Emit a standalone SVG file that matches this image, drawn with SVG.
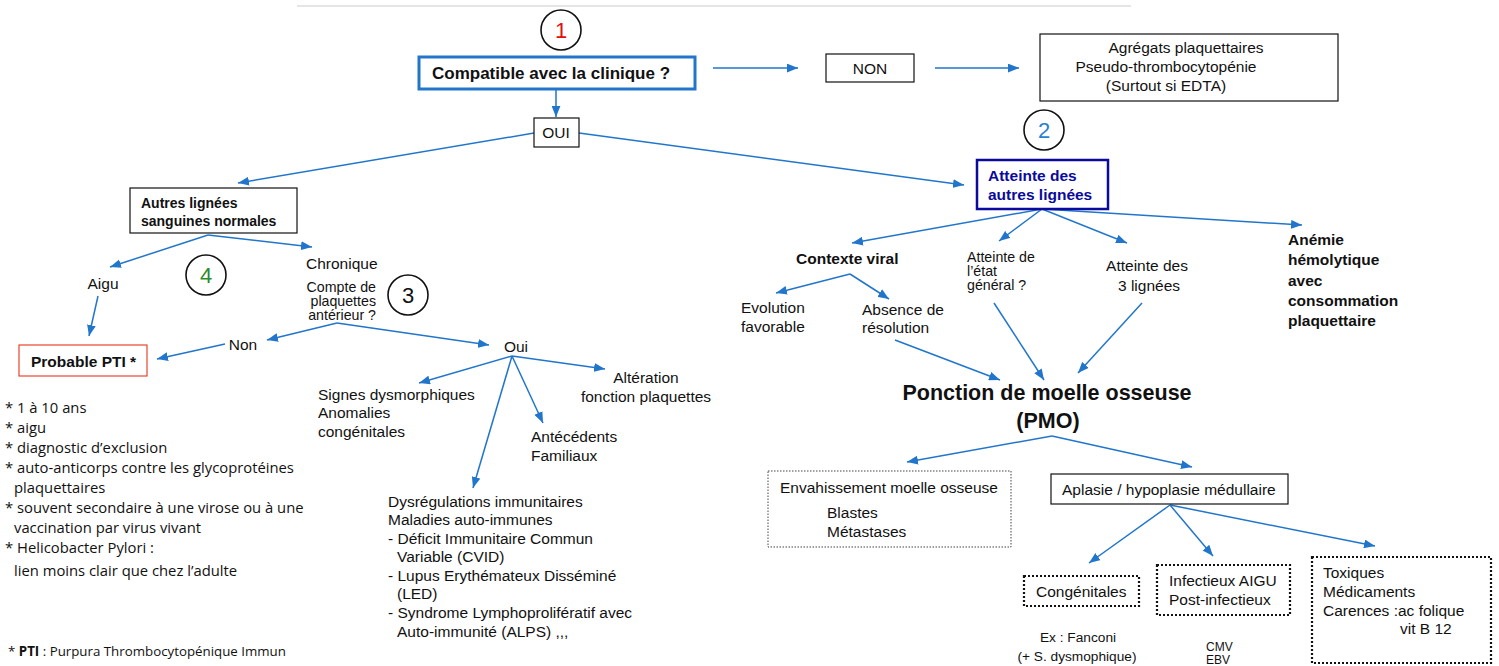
<svg xmlns="http://www.w3.org/2000/svg" width="1499" height="666" viewBox="0 0 1499 666">
<defs>
<marker id="ah" viewBox="0 0 10 8" refX="10" refY="4" markerWidth="11" markerHeight="9" markerUnits="userSpaceOnUse" orient="auto">
<path d="M0,0 L10,4 L0,8 z" fill="#2176cc"/>
</marker>
<style>
text{font-family:"Liberation Sans",Arial,sans-serif;font-size:15.5px;fill:#111}
.b{font-weight:bold}
.note{font-family:"Open Sans","Noto Sans",sans-serif;font-size:14.8px}
.box{fill:#fff;stroke:#111;stroke-width:1.2}
.dot1{fill:#fff;stroke:#444;stroke-width:1;stroke-dasharray:1.5,1.5}
.dot2{fill:#fff;stroke:#111;stroke-width:2.2;stroke-dasharray:2,2}
.circ{fill:#fff;stroke:#111;stroke-width:1.6}
.num{font-size:22px;text-anchor:middle}
.tight{font-size:14.2px}
#connectors line{stroke:#2176cc;stroke-width:1.5;fill:none}
</style>
</defs>
<rect width="1499" height="666" fill="#fff"/>
<line x1="297" y1="6" x2="1131" y2="6" stroke="#ddd" stroke-width="1.5"/>

<g id="connectors">
<line x1="556" y1="89" x2="556" y2="117" marker-end="url(#ah)"/>
<line x1="713" y1="68" x2="798" y2="68" marker-end="url(#ah)"/>
<line x1="935" y1="68" x2="1019" y2="68" marker-end="url(#ah)"/>
<line x1="534" y1="133" x2="238" y2="183" marker-end="url(#ah)"/>
<line x1="579" y1="133" x2="964" y2="185" marker-end="url(#ah)"/>
<line x1="208" y1="235" x2="110" y2="267" marker-end="url(#ah)"/>
<line x1="208" y1="235" x2="312" y2="247" marker-end="url(#ah)"/>
<line x1="98" y1="296" x2="89" y2="336" marker-end="url(#ah)"/>
<line x1="337" y1="323" x2="267" y2="340" marker-end="url(#ah)"/>
<line x1="337" y1="323" x2="489" y2="345" marker-end="url(#ah)"/>
<line x1="225" y1="344" x2="157" y2="359" marker-end="url(#ah)"/>
<line x1="512" y1="356" x2="419" y2="383" marker-end="url(#ah)"/>
<line x1="512" y1="356" x2="605" y2="369" marker-end="url(#ah)"/>
<line x1="512" y1="356" x2="543" y2="423" marker-end="url(#ah)"/>
<line x1="512" y1="356" x2="473" y2="488" marker-end="url(#ah)"/>
<line x1="1042" y1="209" x2="852" y2="243" marker-end="url(#ah)"/>
<line x1="1042" y1="209" x2="999" y2="241" marker-end="url(#ah)"/>
<line x1="1042" y1="209" x2="1127" y2="243" marker-end="url(#ah)"/>
<line x1="1042" y1="209" x2="1302" y2="225" marker-end="url(#ah)"/>
<line x1="850" y1="274" x2="776" y2="293" marker-end="url(#ah)"/>
<line x1="850" y1="274" x2="889" y2="299" marker-end="url(#ah)"/>
<line x1="895" y1="340" x2="1000" y2="380" marker-end="url(#ah)"/>
<line x1="994" y1="303" x2="1044" y2="380" marker-end="url(#ah)"/>
<line x1="1142" y1="303" x2="1078" y2="373" marker-end="url(#ah)"/>
<line x1="1052" y1="436" x2="907" y2="462" marker-end="url(#ah)"/>
<line x1="1052" y1="436" x2="1192" y2="467" marker-end="url(#ah)"/>
<line x1="1170" y1="505" x2="1089" y2="563" marker-end="url(#ah)"/>
<line x1="1170" y1="505" x2="1213" y2="556" marker-end="url(#ah)"/>
<line x1="1170" y1="505" x2="1375" y2="546" marker-end="url(#ah)"/>
</g>

<g id="badge1"><circle class="circ" cx="561" cy="30" r="20"/><text class="num" x="561" y="38" style="fill:#e01010">1</text></g>
<g id="badge2"><circle class="circ" cx="1044" cy="130" r="20"/><text class="num" x="1044" y="138" style="fill:#2a7fd4">2</text></g>
<g id="badge3"><circle class="circ" cx="408" cy="295" r="20"/><text class="num" x="408" y="303">3</text></g>
<g id="badge4"><circle class="circ" cx="206" cy="275" r="20"/><text class="num" x="206" y="283" style="fill:#2e8b2e">4</text></g>

<g id="compatible"><rect x="419" y="57" width="276" height="32" fill="#fff" stroke="#2176cc" stroke-width="3"/><text class="b" x="432" y="79" style="font-size:17px">Compatible avec la clinique ?</text></g>
<g id="non"><rect class="box" x="826" y="54" width="88" height="28"/><text x="870" y="74" text-anchor="middle">NON</text></g>
<g id="agregats"><rect class="box" x="1040" y="34" width="298" height="67"/>
<text x="1186" y="53" text-anchor="middle">Agrégats plaquettaires</text>
<text x="1166" y="72" text-anchor="middle">Pseudo-thrombocytopénie</text>
<text x="1166" y="91" text-anchor="middle">(Surtout si EDTA)</text></g>
<g id="oui"><rect class="box" x="534" y="118" width="45" height="29"/><text x="556" y="138" text-anchor="middle">OUI</text></g>

<g id="autres"><rect class="box" x="130" y="188" width="167" height="45"/>
<text class="b" x="141" y="208" style="font-size:14px">Autres lignées</text>
<text class="b" x="141" y="226" style="font-size:14px">sanguines normales</text></g>
<g id="aigu"><text x="103" y="289" text-anchor="middle">Aigu</text></g>
<g id="chronique"><text x="306" y="269">Chronique</text></g>
<g id="compte">
<text class="tight" x="376" y="292" text-anchor="end">Compte de</text>
<text class="tight" x="376" y="306" text-anchor="end">plaquettes</text>
<text class="tight" x="376" y="320" text-anchor="end">antérieur ?</text></g>
<g id="non2"><text x="243" y="350" text-anchor="middle">Non</text></g>
<g id="pti"><rect x="19" y="345" width="128" height="31" fill="#fff" stroke="#e8452c" stroke-width="1.2"/><text class="b" x="31" y="367">Probable PTI *</text></g>
<g id="oui2"><text x="516" y="352" text-anchor="middle">Oui</text></g>
<g id="signes"><text x="318" y="400">Signes dysmorphiques</text><text x="318" y="418">Anomalies</text><text x="318" y="437">congénitales</text></g>
<g id="alteration"><text x="646" y="383" text-anchor="middle">Altération</text><text x="646" y="402" text-anchor="middle">fonction plaquettes</text></g>
<g id="antecedents"><text x="531" y="442">Antécédents</text><text x="531" y="461">Familiaux</text></g>
<g id="dysregulations">
<text x="388" y="507">Dysrégulations immunitaires</text>
<text x="388" y="525">Maladies auto-immunes</text>
<text x="388" y="544">- Déficit Immunitaire Commun</text>
<text x="397" y="562">Variable (CVID)</text>
<text x="388" y="581">- Lupus Erythémateux Disséminé</text>
<text x="397" y="599">(LED)</text>
<text x="388" y="618">- Syndrome Lymphoprolifératif avec</text>
<text x="397" y="637">Auto-immunité (ALPS) ,,,</text></g>

<g id="notes">
<text class="note" x="5" y="413">* 1 à 10 ans</text>
<text class="note" x="5" y="433">* aigu</text>
<text class="note" x="5" y="453">* diagnostic d’exclusion</text>
<text class="note" x="5" y="473">* auto-anticorps contre les glycoprotéines</text>
<text class="note" x="14" y="493">plaquettaires</text>
<text class="note" x="5" y="513">* souvent secondaire à une virose ou à une</text>
<text class="note" x="14" y="533">vaccination  par virus vivant</text>
<text class="note" x="5" y="553">* Helicobacter Pylori :</text>
<text class="note" x="14" y="576">lien moins clair que chez l’adulte</text>
<text class="note" x="8" y="656" style="font-size:13.3px">* <tspan font-weight="bold">PTI</tspan> : Purpura Thrombocytopénique Immun</text>
</g>

<g id="atteinte"><rect x="977" y="160" width="131" height="49" fill="#fff" stroke="#0a0a9c" stroke-width="2.5"/>
<text class="b" x="988" y="181" style="fill:#0a0a9c">Atteinte des</text>
<text class="b" x="988" y="200" style="fill:#0a0a9c">autres lignées</text></g>
<g id="contexte"><text class="b" x="796" y="264">Contexte viral</text></g>
<g id="evolution"><text x="741" y="313">Evolution</text><text x="741" y="332">favorable</text></g>
<g id="absence"><text x="862" y="315">Absence de</text><text x="862" y="333">résolution</text></g>
<g id="etat">
<text class="tight" x="967" y="262">Atteinte de</text>
<text class="tight" x="967" y="276">l’état</text>
<text class="tight" x="967" y="290">général ?</text></g>
<g id="trois"><text x="1147" y="271" text-anchor="middle">Atteinte des</text><text x="1149" y="291" text-anchor="middle">3 lignées</text></g>
<g id="anemie">
<text class="b" x="1288" y="245">Anémie</text>
<text class="b" x="1288" y="265">hémolytique</text>
<text class="b" x="1288" y="286">avec</text>
<text class="b" x="1288" y="306">consommation</text>
<text class="b" x="1288" y="326">plaquettaire</text></g>
<g id="pmo"><text class="b" x="1047" y="400" text-anchor="middle" style="font-size:21.5px">Ponction de moelle osseuse</text><text class="b" x="1048" y="428" text-anchor="middle" style="font-size:21.5px">(PMO)</text></g>
<g id="envahissement"><rect class="dot1" x="768" y="471" width="243" height="76"/>
<text x="780" y="493">Envahissement moelle osseuse</text>
<text x="827" y="518">Blastes</text>
<text x="827" y="537">Métastases</text></g>
<g id="aplasie"><rect class="box" x="1051" y="474" width="237" height="30"/><text x="1062" y="495">Aplasie / hypoplasie médullaire</text></g>
<g id="congenitales"><rect class="dot2" x="1024" y="576" width="115" height="30"/><text x="1036" y="597">Congénitales</text></g>
<g id="fanconi"><text x="1078" y="642" text-anchor="middle" style="font-size:13.7px">Ex : Fanconi</text><text x="1077" y="661" text-anchor="middle" style="font-size:13.7px">(+ S. dysmophique)</text></g>
<g id="infectieux"><rect class="dot2" x="1157" y="565" width="133" height="50"/><text x="1169" y="586">Infectieux AIGU</text><text x="1169" y="605">Post-infectieux</text></g>
<g id="virus"><text x="1206" y="651" style="font-size:12px">CMV</text><text x="1206" y="664" style="font-size:12px">EBV</text></g>
<g id="toxiques"><rect class="dot2" x="1312" y="557" width="179" height="106"/>
<text x="1323" y="578">Toxiques</text><text x="1323" y="597">Médicaments</text><text x="1323" y="616">Carences :ac folique</text><text x="1400" y="634">vit B 12</text></g>
</svg>
